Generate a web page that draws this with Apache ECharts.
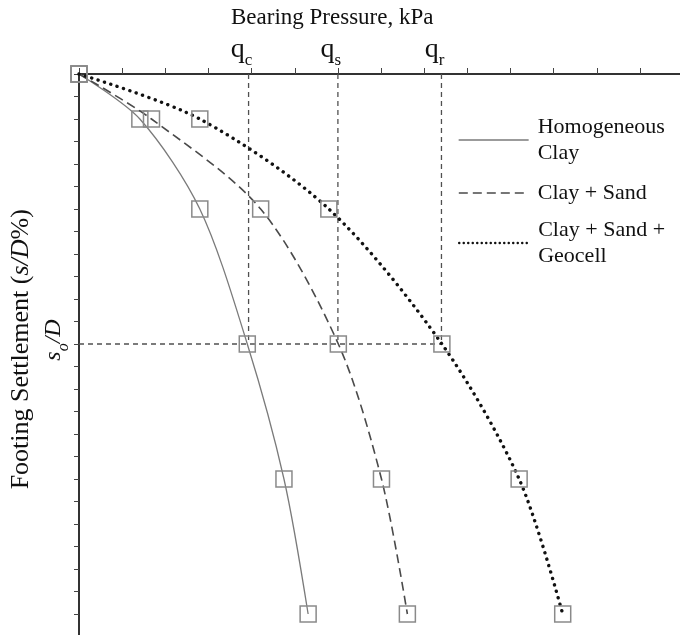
<!DOCTYPE html>
<html><head><meta charset="utf-8">
<script src="https://cdn.jsdelivr.net/npm/echarts@6/dist/echarts.min.js"></script>
<style>html,body{margin:0;padding:0;background:#fff}#c{width:680px;height:635px}</style>
</head><body><div id="c"></div>
<script>
// ---- data ----
const settlement = [0, 2, 6, 12, 18, 24];             // footing settlement (tick units)
const clay = [0, 1.41, 2.80, 3.90, 4.75, 5.31];       // Homogeneous Clay bearing pressure (tick units)
const claySand = [0, 1.68, 4.21, 6.01, 7.01, 7.61];   // Clay + Sand
const claySandGeocell = [0, 2.80, 5.79, 8.41, 10.20, 11.21]; // Clay + Sand + Geocell
const seriesNames = ['Homogeneous Clay', 'Clay + Sand', 'Clay + Sand + Geocell'];
const legendLabels = ['Homogeneous\nClay', 'Clay + Sand', 'Clay + Sand +\nGeocell'];
const qValues = [3.93, 6.0, 8.4];
const qSubs = ['c', 's', 'r'];
const s0 = 12;
const xMax = 14, yMax = 25;
const xTitle = 'Bearing Pressure, kPa';

const FONT = 'Liberation Serif';
const pairs = xs => xs.map((x, i) => [x, settlement[i]]);
const lineStyles = [
  {color: '#7a7a7a', width: 1.3, type: 'solid'},
  {color: '#4a4a4a', width: 1.6, type: [9, 5]},
  {color: '#111', width: 3.4, type: [0.1, 6.6], cap: 'round'}
];
const legendLineStyles = [
  {color: '#7a7a7a', width: 1.3, type: 'solid'},
  {color: '#4a4a4a', width: 1.6, type: [9, 5]},
  {color: '#111', width: 2.4, type: [0.1, 4.4], cap: 'round'}
];
const dataSets = [clay, claySand, claySandGeocell];

const series = dataSets.map((d, i) => ({
  name: seriesNames[i], type: 'line', data: pairs(d), smooth: 0.3,
  symbol: 'rect', symbolSize: 16, clip: false, z: 3 + i,
  lineStyle: lineStyles[i],
  itemStyle: {color: 'rgba(255,255,255,0)', borderColor: '#8a8a8a', borderWidth: 1.5},
  emphasis: {disabled: true}
}));
const refStyle = {color: '#505050', width: 1.3, type: [5, 4]};
qValues.forEach(q => series.push({
  type: 'line', data: [[q, 0], [q, s0]], symbol: 'none', silent: true, z: 1,
  lineStyle: refStyle, emphasis: {disabled: true}
}));
series.push({
  type: 'line', data: [[0, s0], [qValues[2], s0]], symbol: 'none', silent: true, z: 1,
  lineStyle: refStyle, emphasis: {disabled: true}
});

const legendTops = [101, 180, 204];
const legends = seriesNames.map((n, i) => {
  const multi = legendLabels[i].indexOf('\n') >= 0;
  return {
    data: [n], left: 458, top: legendTops[i], padding: 0, orient: 'vertical',
    itemWidth: 70, itemHeight: 14, selectedMode: false,
    formatter: () => legendLabels[i],
    lineStyle: legendLineStyles[i],
    itemStyle: {color: 'transparent', borderColor: 'transparent', borderWidth: 0},
    textStyle: {fontFamily: FONT, fontSize: 22, lineHeight: 26, color: '#111',
      padding: multi ? [26, 0, 0, 4] : [0, 0, 0, 4]}
  };
});

const option = {
  animation: false,
  backgroundColor: '#fff',
  title: {text: xTitle, left: 231, top: 6, padding: 0,
    textStyle: {fontFamily: FONT, fontSize: 23, fontWeight: 'normal', color: '#111'}},
  legend: legends,
  grid: {left: 79, top: 74, right: -3.1, bottom: -1.5, outerBoundsMode: 'none', containLabel: false},
  xAxis: {
    type: 'value', position: 'top', min: 0, max: xMax, interval: 1,
    splitLine: {show: false},
    axisLine: {onZero: false, lineStyle: {color: '#333', width: 2}},
    axisTick: {show: true, length: 6, lineStyle: {color: '#444', width: 1}},
    axisLabel: {
      customValues: qValues, margin: 8,
      formatter: v => {
        let k = 0, best = 1e9;
        qValues.forEach((q, j) => { if (Math.abs(q - v) < best) { best = Math.abs(q - v); k = j; } });
        return '{q|q}{s|' + qSubs[k] + '}';
      },
      padding: [0, 14, 0, 0],
      rich: {
        q: {fontFamily: FONT, fontSize: 28, lineHeight: 30, verticalAlign: 'top', color: '#111'},
        s: {fontFamily: FONT, fontSize: 17, lineHeight: 17, padding: [16, 0, 0, 0], verticalAlign: 'top', color: '#111'}
      }
    }
  },
  yAxis: {
    type: 'value', inverse: true, min: 0, max: yMax, interval: 1,
    splitLine: {show: false},
    axisLine: {onZero: false, lineStyle: {color: '#333', width: 2}},
    axisTick: {show: true, length: 5, lineStyle: {color: '#444', width: 1}},
    axisLabel: {
      customValues: [s0], rotate: 90, margin: 11,
      formatter: () => '{i|s}{o|o}{i|/D}',
      padding: [0, 0, 0, 8],
      rich: {
        i: {fontFamily: FONT, fontStyle: 'italic', fontSize: 24, lineHeight: 26, verticalAlign: 'top', color: '#111'},
        o: {fontFamily: FONT, fontStyle: 'italic', fontSize: 16, lineHeight: 16, padding: [14, 0, 0, 0], verticalAlign: 'top', color: '#111'}
      }
    },
    name: '{n|Footing Settlement (}{i|s/D}{n|%)}',
    nameLocation: 'middle', nameRotate: 90, nameGap: 44,
    nameTextStyle: {
      padding: [0, 0, 0, 12],
      rich: {
        n: {fontFamily: FONT, fontSize: 26, color: '#111'},
        i: {fontFamily: FONT, fontStyle: 'italic', fontSize: 26, color: '#111'}
      }
    }
  },
  series: series
};
const chart = echarts.init(document.getElementById('c'), null, {renderer: 'canvas'});
chart.setOption(option);
</script></body></html>
